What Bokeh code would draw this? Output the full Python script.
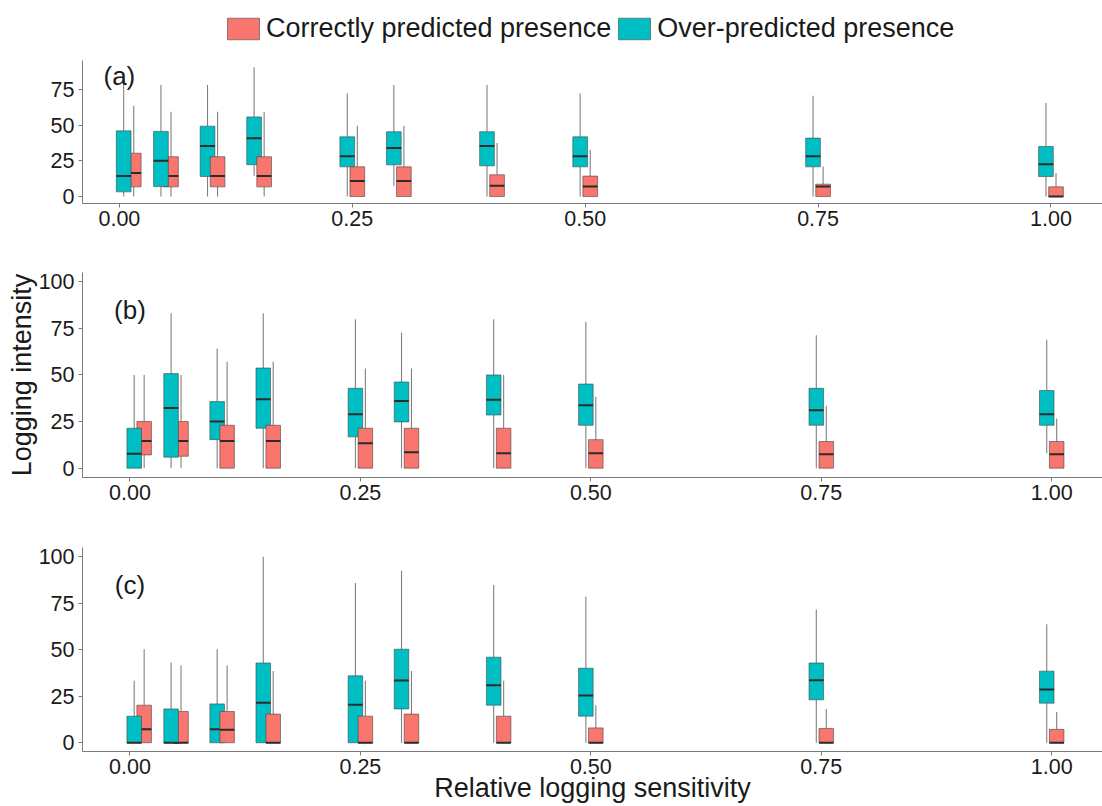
from bokeh.plotting import figure
from bokeh.models import (ColumnDataSource, FixedTicker, PrintfTickFormatter, Label,
                          Legend, LegendItem, Range1d, CDSView, IndexFilter)
from bokeh.layouts import column
from bokeh.embed import file_html
from bokeh.resources import INLINE

# ---------------- data ----------------
sensitivity = [0.01, 0.05, 0.10, 0.15, 0.25, 0.30, 0.40, 0.50, 0.75, 1.00]
x_ticks = [0.0, 0.25, 0.5, 0.75, 1.0]
y_ticks_a = [0, 25, 50, 75]
y_ticks_bc = [0, 25, 50, 75, 100]
panel_labels = ["(a)", "(b)", "(c)"]
series_names = ["Correctly predicted presence", "Over-predicted presence"]
x_title = "Relative logging sensitivity"
y_title = "Logging intensity"

# panel (a)
a_over_low = [0, 0, 0, 14.6, 0, 7.5, 0, 0, 0, 0]
a_over_q1 = [3.3, 7.0, 14.1, 22.4, 20.9, 22.3, 21.6, 20.9, 20.9, 14.1]
a_over_med = [14.4, 25.1, 35.6, 41.0, 28.4, 34.1, 35.5, 28.4, 28.4, 22.8]
a_over_q3 = [46.2, 45.8, 49.5, 56.0, 42.0, 45.6, 45.6, 42.0, 41.1, 35.2]
a_over_up = [83.0, 78.5, 78.5, 91.0, 72.5, 78.5, 78.5, 72.5, 70.9, 65.8]

a_corr_low = [0, 0, 0, 0, 0, 0, 0, 0, 0, 0]
a_corr_q1 = [6.8, 6.8, 6.8, 6.8, 0, 0, 0, 0, 0, 0]
a_corr_med = [16.5, 14.5, 14.5, 14.5, 11.0, 11.0, 7.5, 7.0, 7.0, 0]
a_corr_q3 = [30.5, 28.0, 28.0, 28.0, 20.9, 20.9, 15.3, 14.4, 8.7, 6.8]
a_corr_up = [63.9, 59.6, 59.6, 59.6, 49.8, 49.8, 37.6, 32.9, 21.1, 16.5]

# panel (b)
b_over_low = [0, 0, 0, 0, 0, 0, 0, 0, 0, 8.0]
b_over_q1 = [0, 5.9, 15.3, 21.4, 16.8, 24.8, 28.5, 23.0, 23.0, 23.0]
b_over_med = [7.7, 32.3, 25.0, 36.9, 28.9, 36.0, 36.7, 33.7, 31.0, 28.9]
b_over_q3 = [21.4, 50.7, 35.7, 53.7, 42.8, 46.2, 50.0, 45.1, 42.8, 41.6]
b_over_up = [50.0, 83.1, 64.2, 83.1, 79.9, 72.8, 79.9, 78.5, 71.3, 68.8]

b_corr_low = [0, 0, 0, 0, 0, 0, 0, 0, 0, 0]
b_corr_q1 = [7.1, 6.4, 0, 0, 0, 0, 0, 0, 0, 0]
b_corr_med = [14.6, 14.6, 14.6, 14.6, 13.4, 8.6, 8.0, 8.0, 7.5, 7.5]
b_corr_q3 = [25.0, 25.0, 23.0, 23.0, 21.4, 21.4, 21.4, 15.3, 14.3, 14.3]
b_corr_up = [50.0, 50.0, 57.1, 57.1, 53.5, 53.5, 50.0, 38.3, 33.4, 26.6]

# panel (c)
c_over_low = [0, 0, 0, 0, 0, 0, 0, 0, 0, 0]
c_over_q1 = [0, 0, 0, 0, 0, 18.2, 20.2, 14.3, 23.1, 21.3]
c_over_med = [0, 0, 7.2, 21.5, 20.4, 33.5, 30.9, 25.4, 33.6, 28.6]
c_over_q3 = [14.3, 18.2, 20.9, 42.9, 36.0, 50.3, 46.0, 40.1, 42.9, 38.5]
c_over_up = [33.3, 43.1, 50.3, 100.0, 85.9, 92.5, 84.8, 78.5, 71.6, 63.7]

c_corr_low = [0, 0, 0, 0, 0, 0, 0, 0, 0, 0]
c_corr_q1 = [0, 0, 0, 0, 0, 0, 0, 0, 0, 0]
c_corr_med = [7.2, 0, 7.0, 0, 0, 0, 0, 0, 0, 0]
c_corr_q3 = [20.2, 16.8, 16.8, 15.4, 14.3, 15.4, 14.3, 8.0, 7.7, 7.2]
c_corr_up = [50.3, 41.5, 41.5, 38.6, 33.3, 38.6, 33.3, 20.2, 18.2, 16.6]

# ---------------- style ----------------
RED = "#F8766D"
CYAN = "#00BFC4"
FONT = "Liberation Sans"
AXIS_COL = "#7a7a7a"
TEXT_COL = "#1a1a1a"
BOX_W = 0.0158
DODGE = 0.0054
TOTAL_W = 1102
LEFT = 82
N = len(sensitivity)
FIRST = [0, 1]            # groups where the red box lies underneath
REST = list(range(2, N))


def add_boxes(p, xs, low, q1, med, q3, up, color, idx):
    src = ColumnDataSource(dict(
        x=xs, xl=[v - BOX_W / 2 for v in xs], xr=[v + BOX_W / 2 for v in xs],
        low=low, q1=q1, med=med, q3=q3, up=up))
    view = CDSView(filter=IndexFilter(idx))
    p.segment(x0="x", y0="q3", x1="x", y1="up", source=src, view=view,
              line_color="#808080", line_width=1.1)
    p.segment(x0="x", y0="low", x1="x", y1="q1", source=src, view=view,
              line_color="#808080", line_width=1.1)
    box = p.vbar(x="x", width=BOX_W, bottom="q1", top="q3", source=src, view=view,
                 fill_color=color, line_color="#3a3a3a", line_alpha=0.55, line_width=1)
    p.segment(x0="xl", y0="med", x1="xr", y1="med", source=src, view=view,
              line_color="#2b2b2b", line_width=2)
    return box


def make_panel(data, xr, yr, yticks, top, fh, bottom, label):
    p = figure(frame_width=TOTAL_W - LEFT, frame_height=fh, x_range=Range1d(*xr),
               y_range=Range1d(*yr), output_backend="svg", toolbar_location=None,
               min_border_left=LEFT, min_border_right=0, min_border_top=top,
               min_border_bottom=bottom)
    p.outline_line_color = None
    p.xgrid.grid_line_color = None
    p.ygrid.grid_line_color = None
    p.background_fill_color = "white"
    p.border_fill_color = "white"
    for ax in (p.xaxis[0], p.yaxis[0]):
        ax.axis_line_color = AXIS_COL
        ax.axis_line_width = 1
        ax.major_tick_line_color = AXIS_COL
        ax.major_tick_out = 4
        ax.major_tick_in = 0
        ax.minor_tick_out = 0
        ax.minor_tick_in = 0
        ax.major_label_text_font = FONT
        ax.major_label_text_font_size = "21.5px"
        ax.major_label_text_color = TEXT_COL
        ax.axis_label_text_font = FONT
        ax.axis_label_text_font_size = "27px"
        ax.axis_label_text_font_style = "normal"
        ax.axis_label_text_color = TEXT_COL
    p.xaxis[0].ticker = FixedTicker(ticks=x_ticks)
    p.xaxis[0].formatter = PrintfTickFormatter(format="%.2f")
    p.xaxis[0].major_label_standoff = 3
    p.yaxis[0].ticker = FixedTicker(ticks=yticks)
    p.yaxis[0].major_label_standoff = 4

    over, corr = data
    xs_over = [s - DODGE for s in sensitivity]
    xs_corr = [s + DODGE for s in sensitivity]
    add_boxes(p, xs_corr, *corr, RED, FIRST)
    add_boxes(p, xs_over, *over, CYAN, list(range(N)))
    add_boxes(p, xs_corr, *corr, RED, REST)

    p.add_layout(Label(x=0.0, y=85, text=label, text_align="center",
                       text_baseline="middle", text_font=FONT,
                       text_font_size="26px", text_color=TEXT_COL))
    return p


# legend strip on top (key renderers sit far outside the visible range)
pl = figure(frame_width=TOTAL_W, frame_height=60, x_range=Range1d(0, 1), y_range=Range1d(0, 1),
            output_backend="svg", toolbar_location=None, min_border_left=0,
            min_border_right=0, min_border_top=0, min_border_bottom=0,
            x_axis_location=None, y_axis_location=None)
pl.outline_line_color = None
pl.xgrid.grid_line_color = None
pl.ygrid.grid_line_color = None
key_red = pl.vbar(x=[-10], width=0.01, top=[-5], bottom=[-5.01], fill_color=RED,
                  line_color="#3a3a3a", line_alpha=0.55)
key_cyan = pl.vbar(x=[-10], width=0.01, top=[-5], bottom=[-5.01], fill_color=CYAN,
                   line_color="#3a3a3a", line_alpha=0.55)
legend = Legend(items=[LegendItem(label=series_names[0], renderers=[key_red]),
                       LegendItem(label=series_names[1], renderers=[key_cyan])],
                orientation="horizontal", location=(223, 16),
                border_line_color=None, background_fill_alpha=0,
                padding=0, margin=0, spacing=3, label_standoff=3,
                glyph_width=40, glyph_height=27,
                label_text_font=FONT, label_text_font_size="27px",
                label_text_color=TEXT_COL)
pl.add_layout(legend)

pa = make_panel(
    ((a_over_low, a_over_q1, a_over_med, a_over_q3, a_over_up),
     (a_corr_low, a_corr_q1, a_corr_med, a_corr_q3, a_corr_up)),
    (-0.0396, 1.0553), (-4.9, 95.7), y_ticks_a, 0, 143, 37, panel_labels[0])
pb = make_panel(
    ((b_over_low, b_over_q1, b_over_med, b_over_q3, b_over_up),
     (b_corr_low, b_corr_q1, b_corr_med, b_corr_q3, b_corr_up)),
    (-0.0515, 1.0551), (-5.0, 104.9), y_ticks_bc, 32, 205, 38, panel_labels[1])
pc = make_panel(
    ((c_over_low, c_over_q1, c_over_med, c_over_q3, c_over_up),
     (c_corr_low, c_corr_q1, c_corr_med, c_corr_q3, c_corr_up)),
    (-0.0515, 1.0551), (-4.7, 105.0), y_ticks_bc, 32, 204, 55, panel_labels[2])

pb.yaxis[0].axis_label = y_title
pb.yaxis[0].axis_label_standoff = -1
pc.xaxis[0].axis_label = x_title
pc.xaxis[0].axis_label_standoff = -4

layout = column(pl, pa, pb, pc, spacing=0)
open("out.html", "w").write(file_html(layout, INLINE))
